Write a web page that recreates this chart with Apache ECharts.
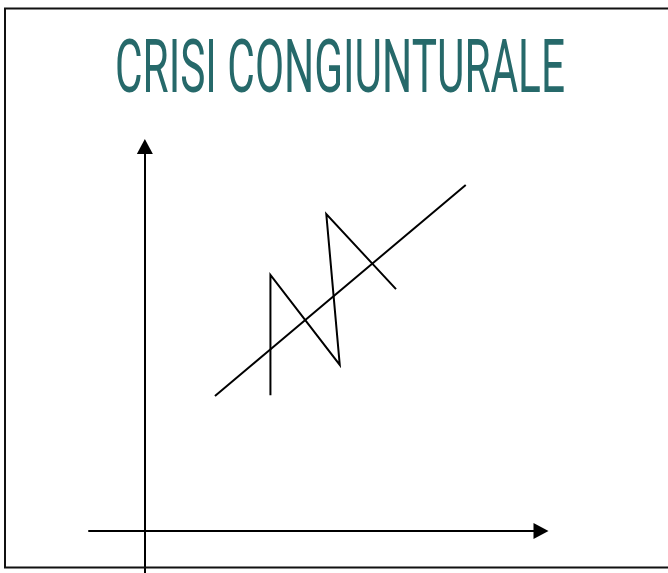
<!DOCTYPE html>
<html>
<head>
<meta charset="utf-8">
<script src="https://cdn.jsdelivr.net/npm/echarts@6/dist/echarts.min.js"></script>
<style>
html,body{margin:0;padding:0;background:#fff;}
#chart{width:668px;height:573px;}
</style>
</head>
<body>
<div id="chart"></div>
<script>
const TITLE = 'CRISI CONGIUNTURALE';
const X_RANGE = [-1.41, 10];
const Y_RANGE = [-1.09, 10];
// long-run trend line
const trendX = [1.77, 8.10];
const trendY = [3.51, 9.00];
// cyclical zigzag
const cycleX = [3.17, 3.17, 4.92, 4.58, 6.34];
const cycleY = [3.53, 6.66, 4.32, 8.24, 6.29];

const zip = (xs, ys) => xs.map((x, i) => [x, ys[i]]);

const FS = 75;
const FONT = 'normal ' + FS + 'px Roboto, "DejaVu Sans", sans-serif';
const mctx = document.createElement('canvas').getContext('2d');
mctx.font = FONT;
const titleScale = 450 / mctx.measureText(TITLE).width;

const chart = echarts.init(document.getElementById('chart'), null, {renderer: 'canvas'});
const axisCommon = {
  type: 'value',
  axisLine: {show: true, onZero: true, symbol: ['none', 'triangle'], symbolSize: [16, 15],
    lineStyle: {color: '#000', width: 2}},
  axisTick: {show: false},
  axisLabel: {show: false},
  splitLine: {show: false}
};
chart.setOption({
  animation: false,
  backgroundColor: '#fff',
  grid: {left: 89, top: 146.5, right: 127, bottom: 0},
  xAxis: Object.assign({min: X_RANGE[0], max: X_RANGE[1]}, axisCommon),
  yAxis: Object.assign({min: Y_RANGE[0], max: Y_RANGE[1]}, axisCommon),
  graphic: [
    {type: 'rect', shape: {x: 5, y: 8.5, width: 700, height: 559},
     style: {fill: 'none', stroke: '#111', lineWidth: 2}, z: 10},
    {type: 'text', x: 340, y: 73.5, scaleX: titleScale, scaleY: 1,
     style: {text: TITLE, fill: '#26696a', font: FONT,
       textAlign: 'center', textVerticalAlign: 'middle'}, z: 10}
  ],
  series: [
    {type: 'line', data: zip(trendX, trendY), showSymbol: false, symbol: 'none',
     lineStyle: {color: '#000', width: 2}, silent: true},
    {type: 'line', data: zip(cycleX, cycleY), showSymbol: false, symbol: 'none',
     lineStyle: {color: '#000', width: 2, join: 'miter'}, silent: true}
  ]
});
</script>
</body>
</html>
